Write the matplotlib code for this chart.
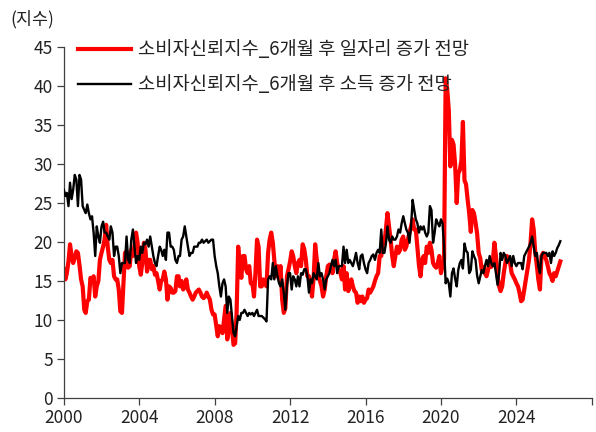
import numpy as np
import pandas as pd
import matplotlib
matplotlib.use("Agg")
import matplotlib.pyplot as plt

plt.rcParams["font.family"] = ["Noto Sans CJK KR", "DejaVu Sans"]

# monthly values, 2000-01 .. 2026-05
job_outlook = [
    16.5, 15.2, 16.0, 17.5, 19.7, 18.2, 17.3, 18.0, 18.8, 18.6, 17.0, 15.2,  # 2000
    14.3, 11.3, 10.9, 12.4, 12.6, 15.4, 15.0, 15.6, 13.0, 14.3, 15.0, 17.7,  # 2001
    18.6, 19.4, 20.3, 22.2, 19.4, 17.7, 17.3, 17.7, 15.6, 15.2, 15.2, 13.9,  # 2002
    11.1, 10.9, 14.5, 18.6, 18.8, 16.7, 16.9, 19.0, 18.2, 19.5, 21.2, 19.9,  # 2003
    16.9, 15.8, 17.3, 19.9, 19.0, 16.2, 17.7, 17.7, 16.5, 16.9, 15.8, 16.0,  # 2004
    15.0, 13.9, 15.0, 15.2, 16.2, 15.2, 12.6, 14.3, 14.1, 13.5, 13.5, 13.7,  # 2005
    15.6, 15.6, 14.3, 15.0, 13.9, 14.3, 15.2, 13.9, 13.5, 13.0, 12.6, 13.0,  # 2006
    13.5, 13.7, 13.9, 13.5, 13.0, 12.8, 13.0, 13.5, 13.0, 12.6, 11.3, 10.7,  # 2007
    10.7, 9.2, 7.9, 9.2, 8.8, 8.3, 10.0, 11.8, 7.5, 8.8, 10.9, 8.8,  # 2008
    6.8, 7.0, 10.9, 19.4, 16.9, 15.4, 18.2, 18.2, 16.5, 16.0, 16.9, 14.7,  # 2009
    14.7, 13.0, 16.0, 20.3, 19.4, 14.3, 14.3, 15.2, 15.0, 14.3, 18.6, 20.3,  # 2010
    21.2, 19.9, 17.7, 15.6, 16.9, 15.6, 16.9, 12.6, 10.9, 11.5, 15.6, 16.5,  # 2011
    17.5, 18.8, 18.2, 16.9, 16.0, 17.3, 17.7, 16.9, 19.7, 19.1, 17.7, 15.6,  # 2012
    15.6, 14.3, 13.0, 15.4, 19.7, 17.7, 15.6, 15.0, 14.3, 13.0, 13.9, 15.6,  # 2013
    16.9, 17.1, 16.9, 16.0, 17.7, 18.8, 17.3, 16.5, 16.0, 15.2, 16.9, 13.9,  # 2014
    16.0, 13.7, 14.3, 15.2, 14.3, 13.7, 13.5, 12.2, 13.0, 12.4, 13.0, 12.2,  # 2015
    12.6, 12.8, 13.9, 13.5, 13.9, 14.3, 15.0, 15.6, 16.0, 18.2, 18.2, 19.9,  # 2016
    19.9, 21.8, 23.7, 22.0, 20.3, 18.2, 16.9, 18.2, 19.4, 18.6, 19.0, 20.3,  # 2017
    20.7, 19.0, 19.4, 20.3, 21.2, 22.0, 22.9, 21.6, 21.6, 19.4, 17.0, 15.6,  # 2018
    17.7, 18.2, 17.3, 19.4, 18.6, 19.9, 19.0, 17.3, 16.9, 16.7, 17.3, 18.2,  # 2019
    16.0, 17.0, 17.7, 41.0, 39.6, 36.9, 29.7, 33.1, 32.5, 30.0, 25.0, 28.8,  # 2020
    29.2, 30.5, 35.4, 27.9, 27.4, 25.4, 23.7, 21.3, 24.1, 23.7, 22.5, 21.1,  # 2021
    18.6, 17.9, 16.4, 16.8, 16.0, 15.6, 16.4, 17.7, 16.8, 17.5, 19.9, 18.2,  # 2022
    15.7, 14.3, 13.7, 14.3, 16.0, 17.3, 18.2, 17.7, 17.3, 16.0, 15.6, 15.2,  # 2023
    14.7, 14.3, 13.5, 12.4, 12.6, 13.9, 15.2, 16.5, 17.7, 19.9, 22.9, 21.6,  # 2024
    18.6, 16.9, 15.2, 13.9, 18.2, 18.6, 18.2, 17.7, 16.9, 16.0, 15.6, 15.0,  # 2025
    16.0, 15.6, 16.2, 16.9, 17.5,  # 2026
]

income_outlook = [
    26.7, 25.9, 26.3, 24.6, 27.6, 25.5, 26.7, 28.6, 28.0, 24.6, 28.6, 28.0,  # 2000
    24.6, 24.1, 23.7, 24.8, 23.7, 22.9, 23.3, 21.2, 18.2, 22.0, 20.7, 19.9,  # 2001
    22.0, 22.6, 21.2, 21.2, 20.7, 20.3, 22.0, 21.2, 18.2, 19.4, 19.4, 18.2,  # 2002
    16.0, 17.3, 17.3, 17.3, 20.7, 17.7, 17.3, 20.3, 21.6, 19.4, 17.3, 18.2,  # 2003
    17.7, 19.4, 18.6, 19.9, 19.7, 20.3, 19.4, 20.7, 19.4, 18.2, 17.3, 16.9,  # 2004
    18.2, 19.4, 19.0, 18.2, 19.0, 17.7, 21.2, 21.2, 19.4, 19.4, 19.0, 17.7,  # 2005
    17.3, 18.2, 18.2, 20.3, 20.7, 22.0, 20.7, 19.4, 18.2, 18.6, 18.6, 19.4,  # 2006
    19.4, 19.4, 19.9, 19.9, 20.3, 19.9, 20.1, 20.3, 19.9, 20.1, 20.3, 20.3,  # 2007
    18.2, 16.9, 16.0, 14.3, 13.0, 14.7, 15.2, 14.3, 10.9, 13.0, 12.6, 10.5,  # 2008
    8.3, 7.9, 9.2, 10.5, 10.0, 10.9, 10.9, 11.3, 10.9, 10.5, 10.9, 10.7,  # 2009
    10.9, 10.5, 10.9, 11.3, 10.5, 10.5, 10.5, 10.3, 10.1, 9.8, 15.2, 15.6,  # 2010
    15.2, 17.3, 15.2, 16.9, 15.6, 14.7, 14.3, 15.2, 13.5, 11.3, 14.3, 16.0,  # 2011
    16.0, 13.9, 15.6, 15.2, 14.3, 15.6, 14.3, 16.0, 15.8, 16.5, 16.5, 15.6,  # 2012
    13.5, 15.2, 14.7, 16.0, 15.6, 15.2, 17.3, 15.6, 16.0, 15.2, 13.9, 15.2,  # 2013
    15.6, 16.0, 16.9, 17.7, 16.9, 17.7, 16.0, 16.9, 16.9, 16.9, 19.4, 17.3,  # 2014
    19.0, 17.3, 17.7, 17.3, 16.9, 17.7, 18.6, 17.3, 16.5, 18.2, 18.4, 17.3,  # 2015
    16.5, 16.0, 17.3, 17.7, 18.2, 18.4, 17.7, 18.6, 19.0, 18.6, 21.6, 18.6,  # 2016
    18.6, 19.9, 22.0, 20.3, 19.9, 20.7, 20.3, 20.3, 20.7, 21.6, 21.2, 22.4,  # 2017
    23.3, 22.4, 21.6, 21.2, 19.9, 22.0, 25.4, 24.1, 22.9, 22.4, 21.2, 22.0,  # 2018
    21.6, 22.0, 21.2, 20.7, 21.2, 24.6, 24.1, 19.9, 21.2, 22.9, 22.4, 22.0,  # 2019
    22.9, 22.4, 19.4, 14.7, 15.3, 14.7, 13.0, 16.0, 16.6, 15.3, 14.3, 16.4,  # 2020
    17.3, 17.7, 16.6, 19.8, 18.9, 18.6, 16.0, 16.4, 18.8, 18.2, 17.7, 15.7,  # 2021
    14.7, 15.6, 16.4, 16.0, 16.9, 17.7, 16.9, 18.2, 17.3, 16.9, 17.3, 16.0,  # 2022
    14.5, 16.0, 18.6, 17.7, 18.6, 18.2, 17.3, 17.7, 18.2, 16.9, 18.2, 17.3,  # 2023
    16.9, 17.3, 17.3, 17.3, 16.5, 18.2, 18.6, 19.0, 19.4, 19.9, 20.7, 19.4,  # 2024
    18.2, 18.6, 16.9, 16.0, 18.2, 18.6, 18.6, 18.6, 18.2, 18.6, 17.3, 18.8,  # 2025
    18.2, 18.6, 19.2, 19.6, 20.1,  # 2026
]

dates = pd.date_range("2000-01-01", periods=len(job_outlook), freq="MS")
label_job = "소비자신뢰지수_6개월 후 일자리 증가 전망"
label_income = "소비자신뢰지수_6개월 후 소득 증가 전망"
year_ticks = list(range(2000, 2029, 4))

fig = plt.figure(figsize=(5.96, 4.32), dpi=100)
ax = fig.add_axes([0.107, 0.079, 0.886, 0.812])

ax.plot(dates, job_outlook, color="#ff0000", lw=3.0, label=label_job, zorder=2)
ax.plot(dates, income_outlook, color="black", lw=1.7, label=label_income, zorder=3)

ax.set_xlim(pd.Timestamp("2000-01-01"), pd.Timestamp("2028-01-01"))
ax.set_ylim(0, 45)
ax.set_yticks(np.arange(0, 46, 5))
ax.set_xticks([pd.Timestamp(f"{y}-01-01") for y in year_ticks])
ax.set_xticklabels([str(y) if y < 2028 else "" for y in year_ticks])

for s in ["top", "right"]:
    ax.spines[s].set_visible(False)
for s in ["left", "bottom"]:
    ax.spines[s].set_color("#404040")
    ax.spines[s].set_linewidth(0.9)
ax.tick_params(axis="both", direction="out", length=5, width=0.9,
               color="#404040", labelsize=12.5, labelcolor="#222222", pad=3)

leg = ax.legend(loc="upper left", bbox_to_anchor=(-0.005, 1.07), frameon=False,
                fontsize=13.5, handlelength=2.8, handletextpad=0.4,
                labelspacing=0.75)
for t in leg.get_texts():
    t.set_color("#222222")

fig.text(0.017, 0.955, "(지수)", fontsize=12.5, color="#222222", va="center")

fig.savefig("out.png", dpi=100)
